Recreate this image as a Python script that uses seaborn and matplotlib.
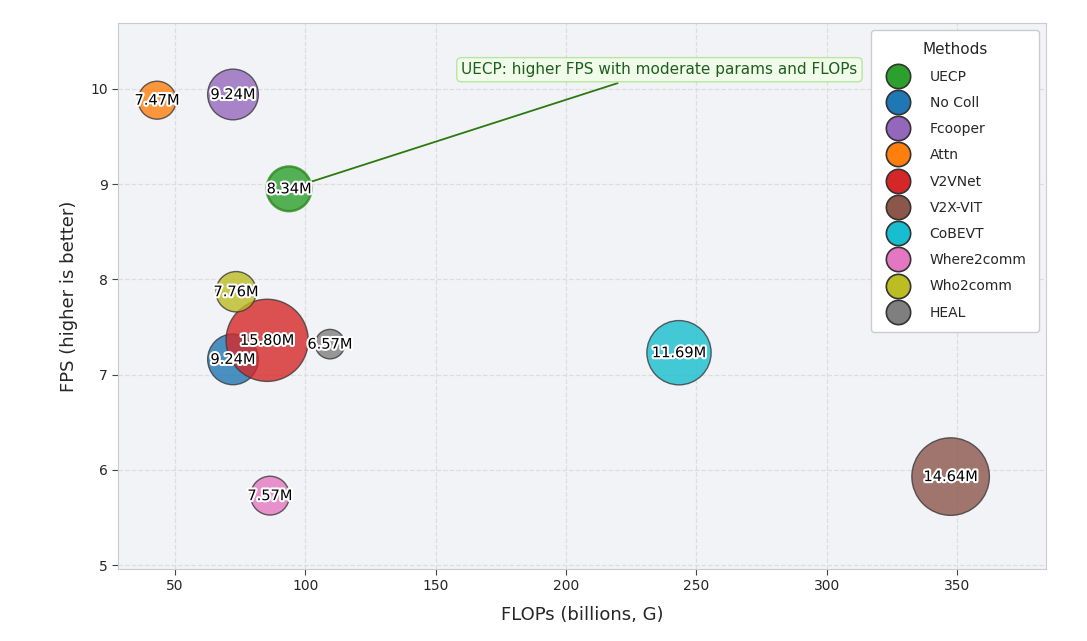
import pandas as pd
import matplotlib.pyplot as plt
import matplotlib.patheffects as pe
from matplotlib.lines import Line2D
import seaborn as sns

methods = ["UECP", "No Coll", "Fcooper", "Attn", "V2VNet", "V2X-VIT",
           "CoBEVT", "Where2comm", "Who2comm", "HEAL"]
flops = [93.7, 72.2, 72.2, 43.1, 85.3, 347.5, 243.3, 86.4, 73.4, 109.4]
fps = [8.95, 7.16, 9.94, 9.88, 7.36, 5.93, 7.23, 5.73, 7.87, 7.32]
params = [8.34, 9.24, 9.24, 7.47, 15.80, 14.64, 11.69, 7.57, 7.76, 6.57]
colors = ["tab:green", "tab:blue", "tab:purple", "tab:orange", "tab:red",
          "tab:brown", "tab:cyan", "tab:pink", "tab:olive", "tab:gray"]

df = pd.DataFrame({"method": methods, "flops": flops, "fps": fps, "params": params})
palette = dict(zip(methods, colors))

sns.set_style("whitegrid")
fig, ax = plt.subplots(figsize=(10.87, 6.41), dpi=100)
fig.subplots_adjust(left=0.1086, right=0.9623, top=0.9641, bottom=0.1123)
ax.set_facecolor("#f2f3f6")

edges = ["#2a8a1a" if m == "UECP" else "#3a3a3a" for m in methods]
widths = [1.8 if m == "UECP" else 1.0 for m in methods]
sns.scatterplot(data=df, x="flops", y="fps", hue="method", palette=palette,
                size="params", sizes=(450, 3500), alpha=0.8,
                edgecolor=edges, linewidth=widths, legend=False, ax=ax, zorder=3)

for _, r in df.iterrows():
    ax.text(r["flops"], r["fps"], f"{r['params']:.2f}M", ha="center", va="center",
            fontsize=10.5, color="black", zorder=5,
            path_effects=[pe.withStroke(linewidth=3, foreground="white")])

ax.annotate("UECP: higher FPS with moderate params and FLOPs",
            xy=(93.7, 8.95), xytext=(235.8, 10.2), ha="center", va="center",
            fontsize=11, color="#1d5e1d", zorder=2,
            bbox=dict(boxstyle="round,pad=0.3", fc="#f1fbea", ec="#b8e6a2", lw=1),
            arrowprops=dict(arrowstyle="-", color="#2a7a10", lw=1.3))

ax.set_xlim(28.1, 384.1)
ax.set_ylim(4.96, 10.69)
ax.set_xlabel("FLOPs (billions, G)", fontsize=13, labelpad=9)
ax.set_ylabel("FPS (higher is better)", fontsize=13, labelpad=9)
ax.grid(True, linestyle="--", color="#dddddd", linewidth=0.9)
for s in ax.spines.values():
    s.set_color("#cccccc")
ax.tick_params(axis="both", labelsize=10, length=4, color="#444444", left=True, bottom=True)

handles = [Line2D([0], [0], marker="o", linestyle="", markersize=17.5,
                  markerfacecolor=c, markeredgecolor="#333333", markeredgewidth=1.2,
                  label=m) for m, c in zip(methods, colors)]
leg = ax.legend(handles=handles, title="Methods", loc="upper right", fontsize=10,
                title_fontsize=11, labelspacing=0.88, borderpad=0.9,
                handletextpad=1.3, frameon=True,
                facecolor="white", edgecolor="#cccccc", framealpha=1)

plt.savefig("out.png")
